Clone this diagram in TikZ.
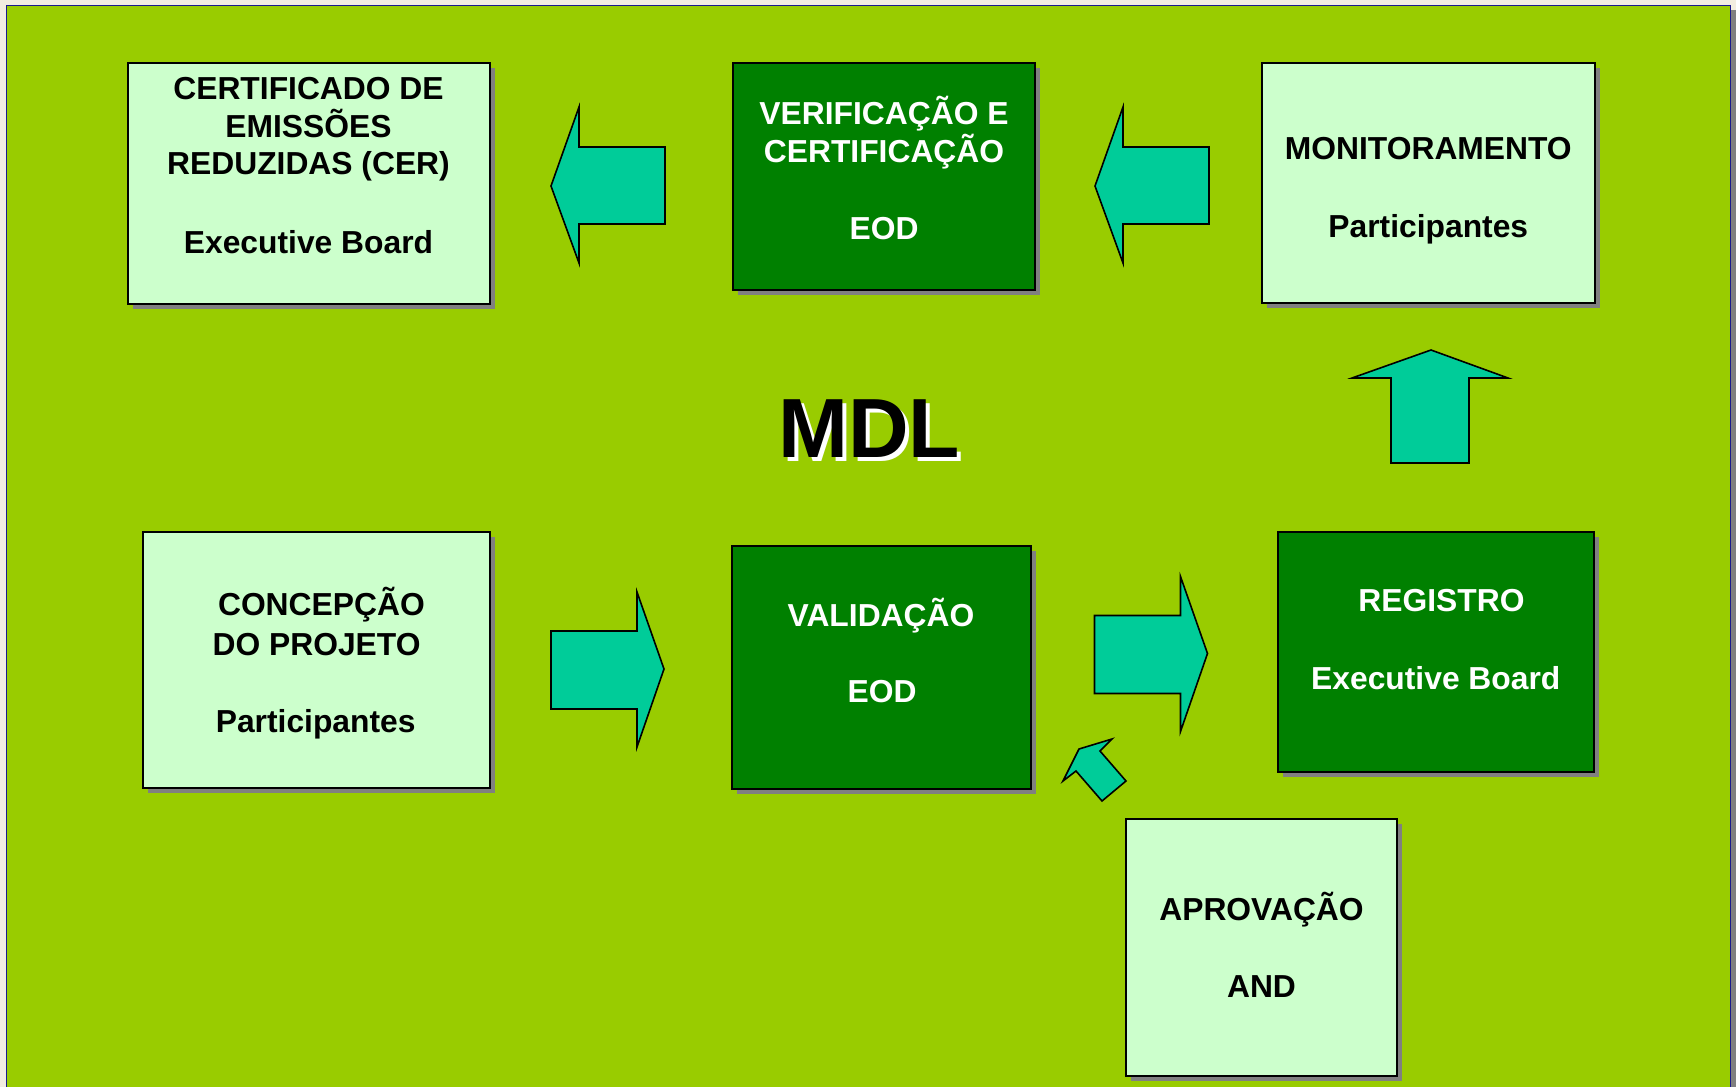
\documentclass[tikz,border=0pt]{standalone}
\usepackage{fontspec}
\setmainfont{Liberation Sans}
\usetikzlibrary{shadows}
\definecolor{bggreen}{HTML}{99CC00}
\definecolor{lightg}{HTML}{CCFFCC}
\definecolor{darkg}{HTML}{008000}
\definecolor{arrowc}{HTML}{00CC99}
\definecolor{shadowgray}{HTML}{808080}
\definecolor{beige}{HTML}{F2EDE0}
\definecolor{navy}{HTML}{1A1A8C}
\begin{document}
\begin{tikzpicture}[x=0.5pt,y=-0.5pt,
  lbox/.style={draw=black, line width=1pt, fill=lightg, inner sep=0pt,
    drop shadow={shadow xshift=2.5pt, shadow yshift=-2.5pt, fill=shadowgray, opacity=1}},
  dbox/.style={lbox, fill=darkg},
  txt/.style={anchor=base, inner sep=0pt, font=\fontsize{15.9}{19}\selectfont\bfseries},
  wtxt/.style={txt, text=white},
  titletxt/.style={anchor=base, inner sep=0pt, font=\fontsize{42}{50}\selectfont\bfseries},
  blockarrow/.style={draw=black, line width=0.8pt, fill=arrowc, line join=miter}]
\useasboundingbox (0,0) rectangle (1736,1087);
\clip (0,0) rectangle (1736,1087);
% slide background
\fill[beige] (0,0) rectangle (1736,1087);
\fill[shadowgray] (1731,10) rectangle (1736,1087);
\draw[navy, line width=0.8pt, fill=bggreen] (6.5,5.5) rectangle (1730.5,1100);

% boxes
\node[lbox, minimum width=181pt, minimum height=120.5pt] (cer) at (309,183.5) {};
\node[dbox, minimum width=151pt, minimum height=113.5pt] (ver) at (884,176.5) {};
\node[lbox, minimum width=166.5pt, minimum height=120pt] (mon) at (1428.5,183) {};
\node[lbox, minimum width=173.5pt, minimum height=128pt] (con) at (316.5,660) {};
\node[dbox, minimum width=149.5pt, minimum height=121.5pt] (val) at (881.5,667.5) {};
\node[dbox, minimum width=158pt, minimum height=120pt] (reg) at (1436,652) {};
\node[lbox, minimum width=135.5pt, minimum height=128.5pt] (apr) at (1261.5,947.5) {};

% texts
\node[txt] (cer1) at (308.5,99) {CERTIFICADO DE};
\node[txt] (cer2) at (308.5,137) {EMISSÕES};
\node[txt] (cer3) at (308.5,174.7) {REDUZIDAS (CER)};
\node[txt] (cer4) at (308.5,253.7) {Executive Board};

\node[wtxt] (ver1) at (884,124.7) {VERIFICAÇÃO E};
\node[wtxt] (ver2) at (884,162.3) {CERTIFICAÇÃO};
\node[wtxt] (ver3) at (884,239) {EOD};

\node[txt] (mon1) at (1428.3,159.7) {MONITORAMENTO};
\node[txt] (mon2) at (1428.3,237) {Participantes};

\node[txt] (con1) at (321.4,615.3) {CONCEPÇÃO};
\node[txt] (con2) at (316.6,655.3) {DO PROJETO};
\node[txt] (con3) at (315.7,732) {Participantes};

\node[wtxt] (val1) at (881,626.3) {VALIDAÇÃO};
\node[wtxt] (val2) at (882,702.7) {EOD};

\node[wtxt] (reg1) at (1441.5,611.3) {REGISTRO};
\node[wtxt] (reg2) at (1435.8,689.3) {Executive Board};

\node[txt] (apr1) at (1261.5,920.7) {APROVAÇÃO};
\node[txt] (apr2) at (1261.5,997.3) {AND};

% title with white shadow
\node[titletxt, text=white] (mdls) at (873,461) {MDL};
\node[titletxt, text=black] (mdl) at (869,457) {MDL};

% block arrows
\draw[blockarrow] (551,186) -- (579,107) -- (579,147) -- (665,147) -- (665,224) -- (579,224) -- (579,263) -- cycle;
\draw[blockarrow] (1095,186) -- (1123,107) -- (1123,147) -- (1209,147) -- (1209,224) -- (1123,224) -- (1123,263) -- cycle;
\draw[blockarrow] (1431,350) -- (1508,378) -- (1469,378) -- (1469,463) -- (1391,463) -- (1391,378) -- (1352,378) -- cycle;
\draw[blockarrow] (551,631) -- (637,631) -- (637,592) -- (664,669) -- (637,747) -- (637,709) -- (551,709) -- cycle;
\draw[blockarrow] (1094.5,615.5) -- (1180.5,615.5) -- (1180.5,576.5) -- (1207.5,653.5) -- (1180.5,731.5) -- (1180.5,693.5) -- (1094.5,693.5) -- cycle;
\draw[blockarrow] (1063,781) -- (1079,749) -- (1112,739) -- (1100,751) -- (1126,781) -- (1102,801) -- (1076,771) -- cycle;
\end{tikzpicture}
\end{document}
